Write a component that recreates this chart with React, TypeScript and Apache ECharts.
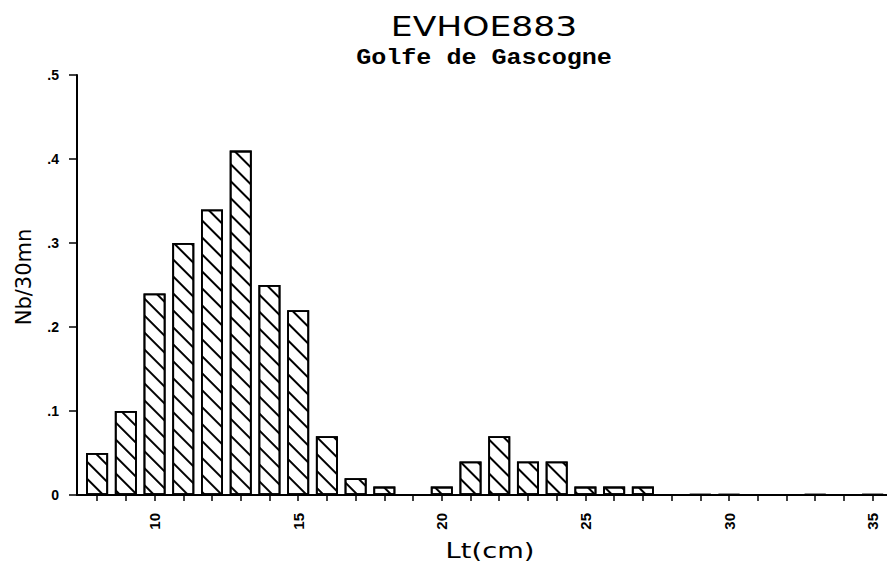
import React, { useEffect, useRef } from "react";
import * as echarts from "echarts";

const lengths = [8, 9, 10, 11, 12, 13, 14, 15, 16, 17, 18, 20, 21, 22, 23, 24, 25, 26, 27, 29, 30, 33, 35];
const counts = [0.05, 0.1, 0.24, 0.3, 0.34, 0.41, 0.25, 0.22, 0.07, 0.02, 0.01, 0.01, 0.04, 0.07, 0.04, 0.04, 0.01, 0.01, 0.01, 0.001, 0.001, 0.001, 0.001];
const xTicks = [8, 9, 10, 11, 12, 13, 14, 15, 16, 17, 18, 19, 20, 21, 22, 23, 24, 25, 26, 27, 28, 29, 30, 31, 32, 33, 34, 35];
const xLabels = [10, 15, 20, 25, 30, 35];
const yLabels: Record<string, string> = { "0": "0", "0.1": ".1", "0.2": ".2", "0.3": ".3", "0.4": ".4", "0.5": ".5" };
const titleText = "EVHOE883";
const subtitleText = "Golfe de Gascogne";
const xName = "Lt(cm)";
const yName = "Nb/30mn";

export default function App() {
  const ref = useRef<HTMLDivElement>(null);
  useEffect(() => {
    if (!ref.current) return;
    const chart = echarts.init(ref.current, null, { renderer: "svg" });
    chart.setOption({
      animation: false,
      backgroundColor: "#fff",
      graphic: [
        {
          type: "text",
          x: 484,
          y: 26,
          scaleX: 1.28,
          style: { text: titleText, font: '27px "DejaVu Sans"', fill: "#000", align: "center", verticalAlign: "middle" },
        },
        {
          type: "text",
          x: 484,
          y: 58,
          scaleX: 1.14,
          style: { text: subtitleText, font: 'bold 22px "Liberation Mono"', fill: "#000", align: "center", verticalAlign: "middle" },
        },
        {
          type: "text",
          x: 490,
          y: 551,
          scaleX: 1.3,
          style: { text: xName, font: '21px "DejaVu Sans"', fill: "#000", align: "center", verticalAlign: "middle" },
        },
        {
          type: "text",
          x: 24,
          y: 277,
          rotation: Math.PI / 2,
          style: { text: yName, font: '21px "DejaVu Sans"', fill: "#000", align: "center", verticalAlign: "middle" },
        },
      ],
      grid: { left: 77, top: 75, right: 0, bottom: 73, containLabel: false, outerBoundsMode: "none" },
      xAxis: {
        type: "value",
        min: 7.3,
        max: 35.5,
        axisLine: { show: true, lineStyle: { color: "#000", width: 2 } },
        axisTick: { show: true, customValues: xTicks, length: 6, lineStyle: { color: "#000", width: 1.5 } },
        axisLabel: {
          customValues: xLabels,
          rotate: 90,
          margin: 18,
          fontFamily: "Liberation Sans",
          fontWeight: "bold",
          fontSize: 15,
          color: "#000",
        },
        splitLine: { show: false },
      },
      yAxis: {
        type: "value",
        min: 0,
        max: 0.5,
        interval: 0.1,
        axisLine: { show: true, lineStyle: { color: "#000", width: 2 } },
        axisTick: { show: true, length: 8, lineStyle: { color: "#000", width: 1.5 } },
        axisLabel: {
          margin: 18,
          fontFamily: "Liberation Sans",
          fontWeight: "bold",
          fontSize: 14,
          color: "#000",
          formatter: (v: number) => yLabels[String(Math.round(v * 10) / 10)] ?? "",
        },
        splitLine: { show: false },
      },
      series: [
        {
          type: "bar",
          data: lengths.map((l, i) => [l, counts[i]]),
          barWidth: 22,
          itemStyle: {
            color: "#fff",
            borderColor: "#000",
            borderWidth: 1.8,
            decal: {
              symbol: "rect",
              symbolSize: 1,
              color: "#000",
              backgroundColor: "#fff",
              dashArrayX: [1, 0],
              dashArrayY: [2, 9.5],
              rotation: Math.PI / 4,
            },
          },
        },
      ],
    });
    return () => chart.dispose();
  }, []);
  return <div ref={ref} style={{ width: 887, height: 568, position: "absolute", left: 0, top: 0 }} />;
}
